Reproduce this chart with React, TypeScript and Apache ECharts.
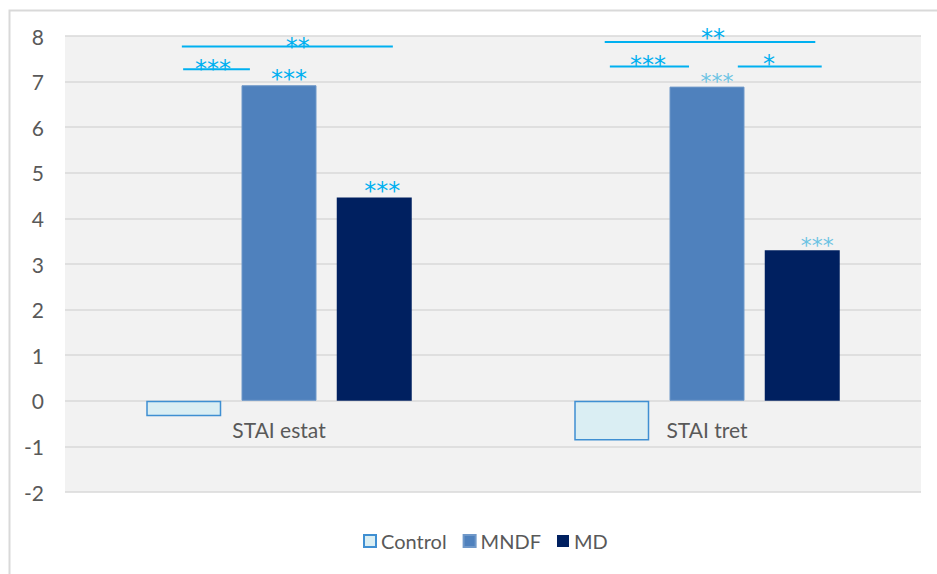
import { useEffect, useRef } from "react";
import * as echarts from "echarts";

// Mean change in STAI scores per group
const categories = ["STAI estat", "STAI tret"];
const seriesNames = ["Control", "MNDF", "MD"];
const controlValues = [-0.34, -0.87];
const mndfValues = [6.92, 6.89];
const mdValues = [4.46, 3.3];
const mndfSig = ["***", "***"];
const mdSig = ["***", "***"];
const yMin = -2;
const yMax = 8;
const yStep = 1;

// Between-group comparison brackets, in axis units
// (x: position along the category axis, 0 and 1 are the group centres; y: score)
const bracketFrom = [-0.227, -0.224, 0.761, 0.773, 1.072];
const bracketTo = [0.266, -0.068, 1.253, 0.958, 1.268];
const bracketLevel = [7.77, 7.27, 7.87, 7.33, 7.33];
const bracketMarks = ["**", "***", "**", "***", "*"];
const bracketMarkX = [0.044, -0.154, 1.014, 0.862, 1.145];
const bracketMarkY = [7.76, 7.28, 7.96, 7.37, 7.39];

const SIG_BRIGHT = "#00b0f0";
const SIG_PALE = "#6cc3e3";
const TEXT_GREY = "#595959";
const LABEL_FONT = "Lato";
const STAR_FONT = "DejaVu Sans";

export default function App() {
  const ref = useRef<HTMLDivElement>(null);

  useEffect(() => {
    if (!ref.current) return;
    const chart = echarts.init(ref.current, null, { renderer: "svg" });

    const sigLabel = (text: string, color: string, dx: number, size: number) => ({
      show: true,
      position: "top",
      distance: -6,
      offset: [dx, 0],
      formatter: text,
      color,
      fontFamily: STAR_FONT,
      fontSize: size,
    });

    // dim 0 anchors each bracket to the first category, dim 1 is its level
    const bracketData = bracketFrom.map((x0, i) => [
      0,
      bracketLevel[i],
      x0,
      bracketTo[i],
      bracketMarkX[i],
      bracketMarkY[i],
    ]);

    // group names sit just under the zero line
    const groupLabelData = categories.map((_, i) => [i, 0]);

    chart.setOption({
      animation: false,
      backgroundColor: "#ffffff",
      textStyle: { fontFamily: LABEL_FONT },
      graphic: [
        {
          type: "rect",
          left: 7,
          top: 8,
          shape: { width: 980, height: 620 },
          style: { fill: "none", stroke: "#d9d9d9", lineWidth: 2 },
          silent: true,
        },
      ],
      grid: {
        left: 65,
        right: 16,
        top: 36,
        bottom: 82,
        show: true,
        backgroundColor: "#f2f2f2",
        borderWidth: 0,
      },
      legend: {
        data: seriesNames,
        left: 358,
        top: 526,
        icon: "rect",
        itemWidth: 12,
        itemHeight: 12,
        itemGap: 16,
        textStyle: { fontFamily: LABEL_FONT, fontSize: 20, color: TEXT_GREY },
      },
      xAxis: {
        type: "category",
        data: categories,
        axisLine: { show: false },
        axisTick: { show: false },
        axisLabel: { show: false },
        splitLine: { show: false },
      },
      yAxis: {
        type: "value",
        min: yMin,
        max: yMax,
        interval: yStep,
        axisLine: { show: false },
        axisTick: { show: false },
        axisLabel: {
          margin: 21,
          fontFamily: LABEL_FONT,
          fontSize: 21,
          color: TEXT_GREY,
        },
        splitLine: { lineStyle: { color: "#d9d9d9", width: 1.5 } },
      },
      series: [
        {
          name: seriesNames[0],
          type: "bar",
          barWidth: 75,
          barGap: "27%",
          data: controlValues,
          itemStyle: { color: "#daeef3", borderColor: "#3f8fd2", borderWidth: 1.5 },
        },
        {
          name: seriesNames[1],
          type: "bar",
          barWidth: 75,
          barGap: "27%",
          data: mndfValues.map((v, i) => ({
            value: v,
            label: sigLabel(mndfSig[i], i === 0 ? SIG_BRIGHT : SIG_PALE, 10, i === 0 ? 24 : 22),
          })),
          itemStyle: { color: "#4f81bd", borderColor: "#6f98c9", borderWidth: 1 },
        },
        {
          name: seriesNames[2],
          type: "bar",
          barWidth: 75,
          barGap: "27%",
          data: mdValues.map((v, i) => ({
            value: v,
            label: sigLabel(mdSig[i], i === 0 ? SIG_BRIGHT : SIG_PALE, i === 0 ? 8 : 15, i === 0 ? 24 : 22),
          })),
          itemStyle: { color: "#002060" },
        },
        {
          name: "groupLabels",
          type: "custom",
          silent: true,
          data: groupLabelData,
          encode: { x: 0, y: 1 },
          renderItem: (params: any, api: any) => {
            const p = api.coord([api.value(0), api.value(1)]);
            return {
              type: "text",
              x: p[0],
              y: p[1] + 18,
              style: {
                text: categories[params.dataIndex],
                fill: TEXT_GREY,
                font: `21px "${LABEL_FONT}"`,
                textAlign: "center",
                textVerticalAlign: "top",
              },
            };
          },
        },
        {
          name: "brackets",
          type: "custom",
          silent: true,
          data: bracketData,
          encode: { x: 0, y: 1 },
          renderItem: (params: any, api: any) => {
            const origin = api.coord([0, 0]);
            const band = api.size([1, 0])[0];
            const px = (x: number) => origin[0] + x * band;
            const py = (y: number) => api.coord([0, y])[1];
            const lineY = py(api.value(1));
            return {
              type: "group",
              children: [
                {
                  type: "line",
                  shape: { x1: px(api.value(2)), y1: lineY, x2: px(api.value(3)), y2: lineY },
                  style: { stroke: SIG_BRIGHT, lineWidth: 2 },
                },
                {
                  type: "text",
                  x: px(api.value(4)),
                  y: py(api.value(5)),
                  style: {
                    text: bracketMarks[params.dataIndex],
                    fill: SIG_BRIGHT,
                    font: `24px "${STAR_FONT}"`,
                    textAlign: "center",
                    textVerticalAlign: "middle",
                  },
                },
              ],
            };
          },
        },
      ],
    });

    return () => chart.dispose();
  }, []);

  return (
    <div
      ref={ref}
      style={{ position: "fixed", left: 0, top: 0, width: 937, height: 574 }}
    />
  );
}
